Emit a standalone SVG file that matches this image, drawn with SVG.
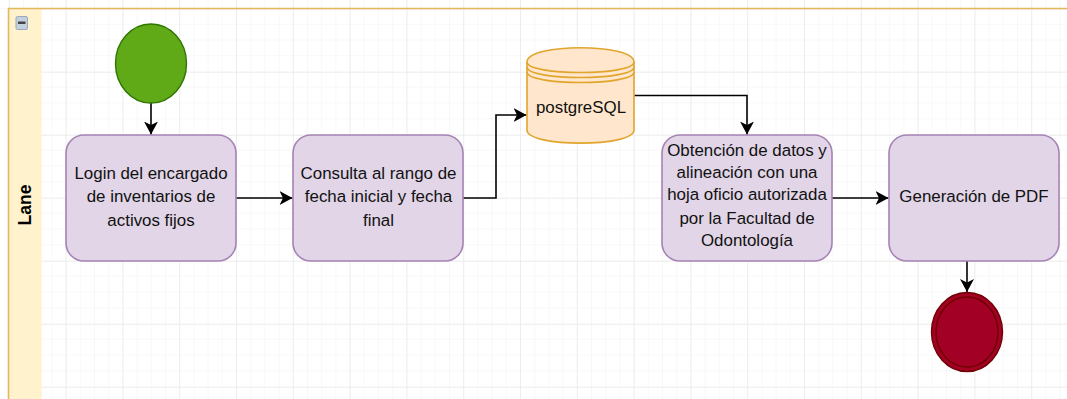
<svg xmlns="http://www.w3.org/2000/svg" width="1067" height="399" viewBox="0 0 1067 399">
<style>
text{font-family:"Liberation Sans",Arial,sans-serif;font-size:16.9px;fill:#111;text-anchor:middle}
.task{fill:#e1d5e7;stroke:#a583b4;stroke-width:1.6}
.conn{fill:none;stroke:#000;stroke-width:1.6}
.db{fill:#ffe6cc;stroke:#e0a52c;stroke-width:1.6}
</style>
<defs>
<marker id="arr" markerUnits="userSpaceOnUse" markerWidth="15" markerHeight="15" refX="13" refY="7" orient="auto">
<path d="M0 0L13 7L0 14L3.5 7Z" fill="#000"/>
</marker>
<pattern id="minor" patternUnits="userSpaceOnUse" width="14.2" height="15.75" x="8.8" y="8">
<path d="M0 0V15.75M0 0H14.2" fill="none" stroke="#f2f2f2" stroke-width="1"/>
</pattern>
<pattern id="major" patternUnits="userSpaceOnUse" width="56.8" height="63" x="8.8" y="9">
<path d="M0 0V63M0 0H56.8" fill="none" stroke="#e6e6e6" stroke-width="1.2"/>
</pattern>
</defs>
<rect width="1067" height="399" fill="#fff"/>
<rect width="1067" height="399" fill="url(#minor)"/>
<rect width="1067" height="399" fill="url(#major)"/>
<g id="lane">
<rect x="0" y="9" width="8" height="390" fill="#fff"/>
<rect x="8.500" y="8.500" width="33" height="391" fill="#fff2cc"/>
<path d="M1067 8.500H8.500V399" fill="none" stroke="#e3b85c" stroke-width="1.600"/>
<rect x="16" y="16.500" width="11.500" height="13" rx="1.500" fill="#c3d0de" stroke="#9aa9b8"/>
<rect x="18" y="21.500" width="7.500" height="2.500" fill="#444"/>
<text transform="translate(30.500,205) rotate(-90)" style="font-weight:bold;font-size:17.500px;fill:#000">Lane</text>
</g>
<g id="connectors">
<path class="conn" d="M151 103V134.500" marker-end="url(#arr)"/>
<path class="conn" d="M236 198H292.500" marker-end="url(#arr)"/>
<path class="conn" d="M463 198H496V115H526.500" marker-end="url(#arr)"/>
<path class="conn" d="M634 95.500H747V134.500" marker-end="url(#arr)"/>
<path class="conn" d="M832 198H888.500" marker-end="url(#arr)"/>
<path class="conn" d="M967 261V292" marker-end="url(#arr)"/>
</g>
<g id="start"><ellipse cx="151" cy="63.500" rx="35.500" ry="39.500" fill="#60a917" stroke="#2d7600" stroke-width="1.400"/></g>
<g id="login">
<rect class="task" x="66" y="135" width="170" height="126" rx="18"/>
<text x="151" y="179">Login del encargado</text>
<text x="151" y="202">de inventarios de</text>
<text x="151" y="226">activos fijos</text>
</g>
<g id="consulta">
<rect class="task" x="293" y="135" width="170" height="126" rx="18"/>
<text x="378.500" y="179">Consulta al rango de</text>
<text x="378.500" y="202">fecha inicial y fecha</text>
<text x="378.500" y="226">final</text>
</g>
<g id="postgres">
<path class="db" d="M527 62C527 43 634 43 634 62V130C634 147.500 527 147.500 527 130Z"/>
<path class="db" style="fill:none" d="M527 62C527 76 634 76 634 62M527 67C527 81 634 81 634 67M527 72C527 86 634 86 634 72"/>
<text x="581" y="113">postgreSQL</text>
</g>
<g id="obtencion">
<rect class="task" x="662" y="135" width="170" height="126" rx="18"/>
<text x="747" y="156">Obtención de datos y</text>
<text x="747" y="178">alineación con una</text>
<text x="747" y="200">hoja oficio autorizada</text>
<text x="747" y="224">por la Facultad de</text>
<text x="747" y="246">Odontología</text>
</g>
<g id="pdf">
<rect class="task" x="889" y="135" width="170" height="126" rx="18"/>
<text x="974" y="202">Generación de PDF</text>
</g>
<g id="end">
<ellipse cx="967" cy="332" rx="35.500" ry="39.500" fill="#a20025" stroke="#6f0000" stroke-width="1.400"/>
<ellipse cx="967" cy="332" rx="31" ry="35" fill="none" stroke="#6f0000" stroke-width="1.400"/>
</g>
</svg>
